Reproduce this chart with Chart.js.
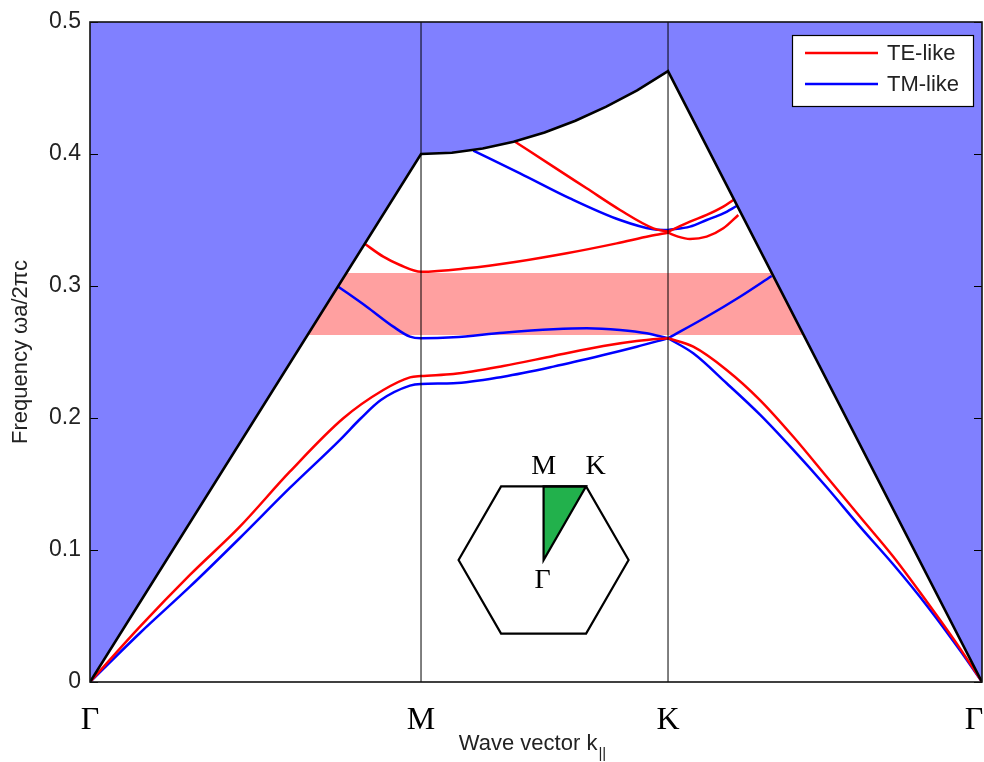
<!DOCTYPE html>
<html><head><meta charset="utf-8">
<script src="https://cdn.jsdelivr.net/npm/chart.js@4.4.1/dist/chart.umd.min.js"></script>
<style>html,body{margin:0;padding:0;background:#fff}#wrap{width:984px;height:762px}</style>
</head><body><div id="wrap"><canvas id="c" width="984" height="762"></canvas></div>
<script>
// ---- data ----
const kLabels = ['Γ', 'M', 'K', 'Γ\u00a0\u00a0'];
const kTicks = [0, 0.3711, 0.648, 1];
const yTicks = [0, 0.1, 0.2, 0.3, 0.4, 0.5];
const gapTop = 0.3098, gapBottom = 0.2629;
const gapX = [0.2, 0.85];
const lightLine = [[0,0],[0.3711,0.4],[0.4057,0.4010],[0.4403,0.4041],[0.4749,0.4092],[0.5096,0.4163],[0.5442,0.4252],[0.5788,0.4359],[0.6134,0.4482],[0.648,0.4628],[1,0]];
const TE1 = [[0,0],[0.056,0.0419],[0.112,0.0811],[0.168,0.1177],[0.224,0.1593],[0.284,0.1998],[0.3288,0.2212],[0.3587,0.2308],[0.3711,0.2318],
  [0.4073,0.2333],[0.4634,0.2394],[0.5194,0.247],[0.5755,0.2545],[0.6129,0.2583],[0.639,0.2600],[0.648,0.2604],
  [0.6763,0.254],[0.7137,0.2364],[0.7511,0.2136],[0.7885,0.1858],[0.8259,0.1555],[0.8632,0.1252],[0.9006,0.0949],[0.938,0.0610],[0.9753,0.0255],[1,0]];
const TM1 = [[0,0],[0.056,0.0371],[0.112,0.0722],[0.168,0.1091],[0.224,0.147],[0.280,0.1833],[0.3037,0.1998],[0.3261,0.2136],[0.3587,0.2245],[0.3711,0.2258],
  [0.4073,0.2263],[0.4634,0.2313],[0.5194,0.2389],[0.5755,0.2477],[0.6129,0.254],[0.648,0.2604],
  [0.6763,0.249],[0.7137,0.2263],[0.7511,0.2025],[0.7885,0.1758],[0.8259,0.1475],[0.8632,0.1177],[0.9006,0.0890],[0.938,0.0580],[0.9753,0.0240],[1,0]];
const TM2 = [[0.2784,0.2995],[0.3102,0.2843],[0.34,0.2692],[0.3587,0.2616],[0.3711,0.2604],
  [0.4073,0.2611],[0.4634,0.2646],[0.5194,0.2672],[0.5568,0.268],[0.5942,0.2667],[0.6241,0.2642],[0.648,0.2604],
  [0.6913,0.2767],[0.7287,0.2919],[0.7642,0.3076]];
const TE2 = [[0.3083,0.3318],[0.3288,0.3222],[0.3475,0.3159],[0.3711,0.3108],
  [0.4223,0.3134],[0.4783,0.3184],[0.5344,0.3248],[0.5905,0.3323],[0.6278,0.3379],[0.648,0.3404],
  [0.6592,0.3374],[0.6726,0.3356],[0.6913,0.3374],[0.71,0.3437],[0.7268,0.3538]];
const TE3 = [[0.4765,0.4093],[0.5194,0.3904],[0.5568,0.374],[0.5942,0.3576],[0.6315,0.3437],[0.648,0.3411],
  [0.6726,0.3487],[0.6913,0.3538],[0.71,0.3601],[0.7212,0.3652]];
const TM3 = [[0.4297,0.4025],[0.4821,0.3854],[0.5381,0.3664],[0.5942,0.35],[0.6315,0.343],[0.648,0.3424],
  [0.6726,0.345],[0.6913,0.35],[0.71,0.355],[0.725,0.3606]];
const seriesNames = ['TE-like', 'TM-like'];
const insetCenter = [0.5085, 0.0924];

// ---- build ----
const pts = a => a.map(p => ({x: p[0], y: p[1]}));
const RED = '#ff0000', BLUE = '#0000ff';
const xK = kTicks[2];
// split each band at K so the crossing there keeps its corner
const band = (d, c) => [d.filter(p => p[0] <= xK), d.filter(p => p[0] >= xK)]
  .filter(s => s.length > 1)
  .map(s => ({data: pts(s), borderColor: c, borderWidth: 2.5, pointRadius: 0, fill: false,
    cubicInterpolationMode: 'monotone', order: 10}));
const vline = x => ({data: [{x: x, y: 0}, {x: x, y: 0.5}], borderColor: '#000', borderWidth: 1, pointRadius: 0, fill: false, order: 1});

const datasets = [
  {data: gapX.map(x => ({x, y: gapTop})), borderWidth: 0, pointRadius: 0, fill: '+1', backgroundColor: '#ffa0a0', order: 20},
  {data: gapX.map(x => ({x, y: gapBottom})), borderWidth: 0, pointRadius: 0, fill: false, order: 19},
  {data: pts(lightLine), borderWidth: 0, pointRadius: 0, fill: 'end', backgroundColor: '#8080ff', tension: 0, order: 18},
  ...band(TE1, RED), ...band(TM1, BLUE), ...band(TM2, BLUE), ...band(TE2, RED), ...band(TE3, RED), ...band(TM3, BLUE),
  {data: pts(lightLine), borderColor: '#000', borderWidth: 2.6, pointRadius: 0, fill: false, tension: 0, order: 3},
  vline(kTicks[1]), vline(kTicks[2])
];

const decor = {
  id: 'decor',
  afterDatasetsDraw(chart) {
    const {ctx, chartArea: a, scales: {x, y}} = chart;
    ctx.save();
    // inward ticks
    ctx.strokeStyle = '#000'; ctx.lineWidth = 1;
    yTicks.forEach(v => {
      const py = Math.round(y.getPixelForValue(v)) + 0.5;
      ctx.beginPath(); ctx.moveTo(a.left, py); ctx.lineTo(a.left + 8, py);
      ctx.moveTo(a.right, py); ctx.lineTo(a.right - 8, py); ctx.stroke();
    });
    // frame
    ctx.strokeStyle = '#111'; ctx.lineWidth = 1.6;
    ctx.strokeRect(a.left, a.top, a.right - a.left, a.bottom - a.top);

    // inset Brillouin zone
    const cx = x.getPixelForValue(insetCenter[0]), cy = y.getPixelForValue(insetCenter[1]);
    const R = 85, H = R * Math.sin(Math.PI / 3);
    ctx.fillStyle = '#22b14c';
    ctx.beginPath(); ctx.moveTo(cx, cy); ctx.lineTo(cx, cy - H); ctx.lineTo(cx + R / 2, cy - H); ctx.closePath(); ctx.fill();
    ctx.strokeStyle = '#000'; ctx.lineWidth = 2.2;
    ctx.stroke();
    ctx.beginPath();
    for (let i = 0; i < 6; i++) {
      const t = i * Math.PI / 3;
      const px = cx + R * Math.cos(t), py = cy - R * Math.sin(t);
      i ? ctx.lineTo(px, py) : ctx.moveTo(px, py);
    }
    ctx.closePath(); ctx.stroke();
    ctx.fillStyle = '#000'; ctx.font = '28px "Liberation Serif", "Times New Roman", serif';
    ctx.textAlign = 'center'; ctx.textBaseline = 'middle';
    ctx.fillText('M', cx, cy - 93);
    ctx.fillText('K', cx + 52, cy - 93);
    ctx.fillText('Γ', cx - 1, cy + 21);

    // legend
    const bx = a.right - 190, by = a.top + 13, bw = 181, bh = 71;
    ctx.fillStyle = '#fff'; ctx.fillRect(bx, by, bw, bh);
    ctx.strokeStyle = '#000'; ctx.lineWidth = 1.2; ctx.strokeRect(bx + 0.5, by + 0.5, bw, bh);
    [[RED, seriesNames[0], 18], [BLUE, seriesNames[1], 49]].forEach(([c, t, dy]) => {
      ctx.strokeStyle = c; ctx.lineWidth = 2.5;
      ctx.beginPath(); ctx.moveTo(bx + 13, by + dy); ctx.lineTo(bx + 86, by + dy); ctx.stroke();
      ctx.fillStyle = '#222'; ctx.font = '22px "Liberation Sans", Arial, sans-serif';
      ctx.textAlign = 'left'; ctx.textBaseline = 'middle';
      ctx.fillText(t, bx + 95, by + dy + 1);
    });

    // x-axis title with subscript
    ctx.fillStyle = '#222';
    const f1 = '22px "Liberation Sans Narrow", "Liberation Sans", Arial, sans-serif';
    const f2 = '15px "Liberation Sans Narrow", "Liberation Sans", Arial, sans-serif';
    const t1 = 'Wave vector k', t2 = '||';
    ctx.font = f1; const w1 = ctx.measureText(t1).width;
    ctx.font = f2; const w2 = ctx.measureText(t2).width;
    const sx = (a.left + a.right) / 2 - 4 - (w1 + w2) / 2;
    ctx.textAlign = 'left'; ctx.textBaseline = 'alphabetic';
    ctx.font = f1; ctx.fillText(t1, sx, a.bottom + 68);
    ctx.font = f2; ctx.fillText(t2, sx + w1 + 1, a.bottom + 76);
    ctx.restore();
  }
};

new Chart(document.getElementById('c'), {
  type: 'line',
  data: {datasets},
  options: {
    responsive: false, animation: false, devicePixelRatio: 1,
    layout: {padding: {top: 22, right: 2, left: 0, bottom: 0}},
    plugins: {legend: {display: false}, tooltip: {enabled: false}},
    scales: {
      x: {
        type: 'linear', min: 0, max: 1,
        afterBuildTicks: s => { s.ticks = kTicks.map(v => ({value: v})); },
        afterFit: s => { s.height = 80; s.paddingLeft = 0; s.paddingRight = 0; },
        ticks: {autoSkip: false, maxRotation: 0, padding: 19, color: '#000',
          font: {family: '"Liberation Serif", "Times New Roman", serif', size: 32},
          callback: (v, i) => kLabels[i]},
        grid: {display: false, drawTicks: false}, border: {display: false}
      },
      y: {
        min: 0, max: 0.5,
        afterBuildTicks: s => { s.ticks = yTicks.map(v => ({value: v})); },
        afterFit: s => { s.width = 90; s.paddingTop = 0; s.paddingBottom = 0; },
        ticks: {padding: 9, color: '#222', font: {family: '"Liberation Sans", Arial, sans-serif', size: 23},
          callback: v => v === 0 ? '0' : v.toFixed(1)},
        grid: {display: false, drawTicks: false}, border: {display: false},
        title: {display: true, text: 'Frequency ωa/2πc', color: '#222', padding: {top: 8, bottom: 0},
          font: {family: '"Liberation Sans", Arial, sans-serif', size: 22}}
      }
    }
  },
  plugins: [decor]
});
</script></body></html>
